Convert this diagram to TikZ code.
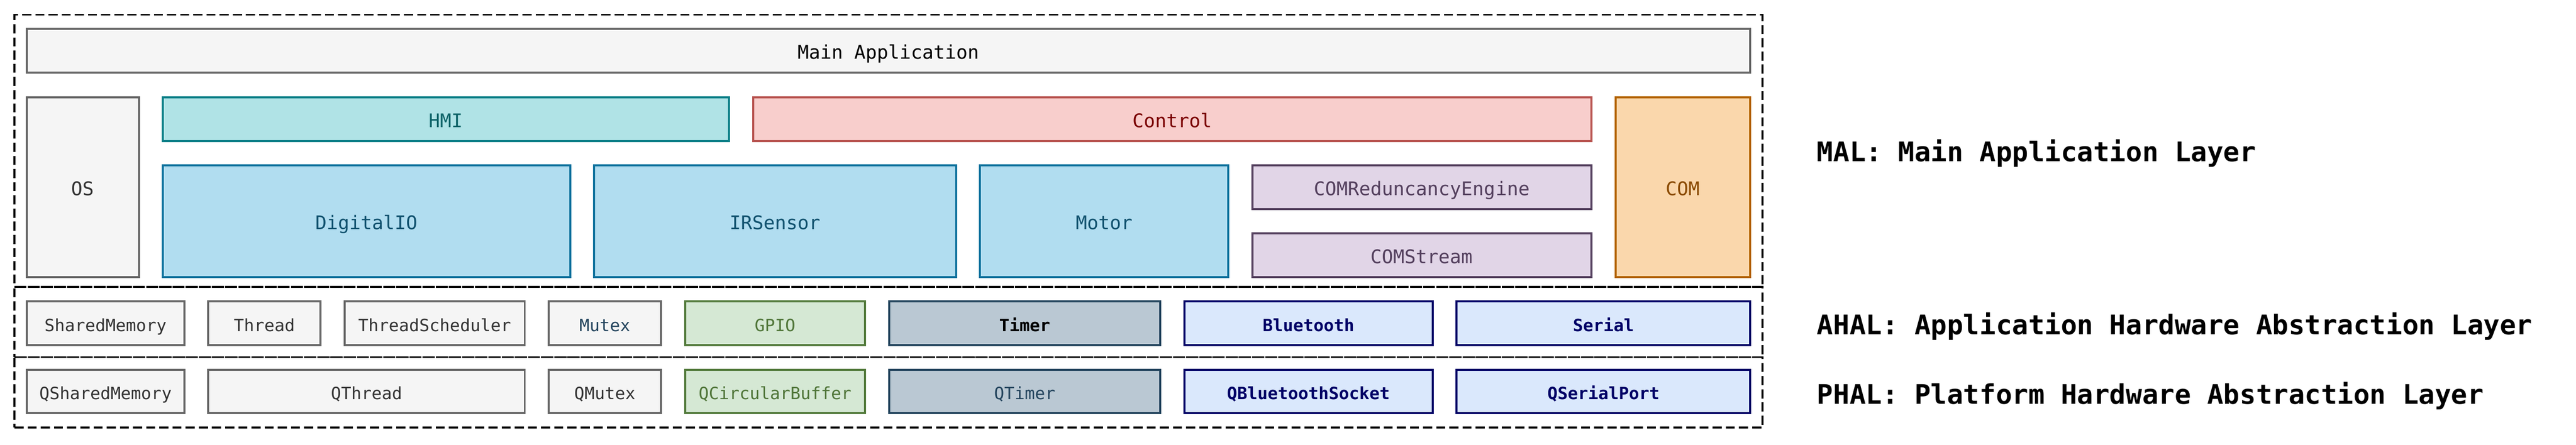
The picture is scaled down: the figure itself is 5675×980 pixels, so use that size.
\documentclass[tikz,border=0pt]{standalone}
\usepackage{fontspec}
\newfontfamily\boxfont{DejaVu Sans Mono}
\newcommand\fbig{\boxfont\fontsize{8.3pt}{9pt}\selectfont}
\newcommand\fsmall{\boxfont\fontsize{7.45pt}{8pt}\selectfont}
\definecolor{grayF}{HTML}{F5F5F5}\definecolor{grayS}{HTML}{666666}\definecolor{grayT}{HTML}{333333}
\definecolor{tealF}{HTML}{B0E3E6}\definecolor{tealS}{HTML}{0E8088}\definecolor{tealT}{HTML}{0B6166}
\definecolor{blueF}{HTML}{B1DDF0}\definecolor{blueS}{HTML}{10739E}\definecolor{blueT}{HTML}{10516E}
\definecolor{redF}{HTML}{F8CECC}\definecolor{redS}{HTML}{B85450}\definecolor{redT}{HTML}{7A0000}
\definecolor{purF}{HTML}{E1D5E7}\definecolor{purS}{HTML}{533F5D}\definecolor{purT}{HTML}{533F5D}
\definecolor{orF}{HTML}{FAD7AC}\definecolor{orS}{HTML}{B46504}\definecolor{orT}{HTML}{8A4A00}
\definecolor{grnF}{HTML}{D5E8D4}\definecolor{grnS}{HTML}{527A3B}\definecolor{grnT}{HTML}{4F7538}
\definecolor{slF}{HTML}{BAC8D3}\definecolor{slS}{HTML}{23445D}\definecolor{slT}{HTML}{23445D}
\definecolor{nvF}{HTML}{DAE8FC}\definecolor{nvS}{HTML}{000066}\definecolor{nvT}{HTML}{000066}
\newcommand\mybox[7]{%
  \pgfmathsetmacro\bxcx{(#3+#5)/2}\pgfmathsetmacro\bxcy{(#4+#6)/2}%
  \pgfmathsetmacro\bxw{(#5-#3)*0.2}\pgfmathsetmacro\bxh{(#6-#4)*0.2}%
  \node[blk,#2,minimum width=\bxw pt,minimum height=\bxh pt] (#1) at (\bxcx,\bxcy) {#7};}
\newcommand\myframe[5]{%
  \pgfmathsetmacro\bxcx{(#2+#4)/2}\pgfmathsetmacro\bxcy{(#3+#5)/2}%
  \pgfmathsetmacro\bxw{(#4-#2)*0.2}\pgfmathsetmacro\bxh{(#5-#3)*0.2}%
  \node[layerframe,minimum width=\bxw pt,minimum height=\bxh pt] (#1) at (\bxcx,\bxcy) {};}
\begin{document}
\begin{tikzpicture}[x=0.2pt,y=-0.2pt,
  blk/.style={draw,rectangle,line width=0.9pt,inner sep=0pt,outer sep=0pt,
    font=\fbig,text height=0.73em,text depth=0pt},
  lower/.style={font=\fsmall},
  lowerbold/.style={font=\fsmall\bfseries},
  gbox/.style={fill=grayF,draw=grayS,text=grayT},
  hbox/.style={fill=tealF,draw=tealS,text=tealT},
  bbox/.style={fill=blueF,draw=blueS,text=blueT},
  rbox/.style={fill=redF,draw=redS,text=redT},
  pbox/.style={fill=purF,draw=purS,text=purT},
  obox/.style={fill=orF,draw=orS,text=orT},
  grbox/.style={fill=grnF,draw=grnS,text=grnT},
  sbox/.style={fill=slF,draw=slS,text=slT},
  nbox/.style={fill=nvF,draw=nvS,text=nvT,lowerbold},
  layerframe/.style={draw=black,line width=0.8pt,dash pattern=on 4pt off 1.8pt,rectangle,inner sep=0pt,outer sep=0pt},
  layerlabel/.style={anchor=base west,inner sep=0pt,font=\boxfont\bfseries\fontsize{11.9pt}{13pt}\selectfont}]
\useasboundingbox (0,0) rectangle (5675,980);
% layer frames
\myframe{mal}{32}{32.5}{3883}{632.5}
\myframe{ahal}{32}{632.5}{3883}{787}
\myframe{phal}{32}{787}{3883}{942}
% MAL
\mybox{mainapp}{gbox,text=black}{59}{64}{3856}{160.5}{Main Application}
\mybox{os}{gbox}{59}{214.5}{306}{610.5}{OS}
\mybox{hmi}{hbox}{359}{214.5}{1606}{310.5}{HMI}
\mybox{control}{rbox}{1659}{214.5}{3506}{310.5}{Control}
\mybox{com}{obox}{3559}{214.5}{3856}{610.5}{COM}
\mybox{digio}{bbox}{359}{364}{1256}{610.5}{DigitalIO}
\mybox{irs}{bbox}{1309}{364}{2106}{610.5}{IRSensor}
\mybox{motor}{bbox}{2159}{364}{2706}{610.5}{Motor}
\mybox{comre}{pbox}{2759}{364}{3506}{460.5}{COMReduncancyEngine}
\mybox{comst}{pbox}{2759}{514}{3506}{610.5}{COMStream}
% AHAL
\mybox{shm}{gbox,lower}{59}{664}{406}{760.5}{SharedMemory}
\mybox{thr}{gbox,lower}{459}{664}{706}{760.5}{Thread}
\mybox{thrs}{gbox,lower}{759}{664}{1156}{760.5}{ThreadScheduler}
\mybox{mtx}{gbox,lower,text=slT}{1209}{664}{1456}{760.5}{Mutex}
\mybox{gpio}{grbox,lower}{1509}{664}{1906}{760.5}{GPIO}
\mybox{tmr}{sbox,text=black,lowerbold}{1959}{664}{2556}{760.5}{Timer}
\mybox{bt}{nbox}{2609}{664}{3156}{760.5}{Bluetooth}
\mybox{ser}{nbox}{3209}{664}{3856}{760.5}{Serial}
% PHAL
\mybox{qshm}{gbox,lower}{59}{814.5}{406}{910.5}{QSharedMemory}
\mybox{qthr}{gbox,lower}{459}{814.5}{1156}{910.5}{QThread}
\mybox{qmtx}{gbox,lower}{1209}{814.5}{1456}{910.5}{QMutex}
\mybox{qcb}{grbox,lower}{1509}{814.5}{1906}{910.5}{QCircularBuffer}
\mybox{qtmr}{sbox,lower}{1959}{814.5}{2556}{910.5}{QTimer}
\mybox{qbt}{nbox}{2609}{814.5}{3156}{910.5}{QBluetoothSocket}
\mybox{qser}{nbox}{3209}{814.5}{3856}{910.5}{QSerialPort}
% labels
\node[layerlabel] (malL) at (4002,356) {MAL: Main Application Layer};
\node[layerlabel] (ahalL) at (4002,737.5) {AHAL: Application Hardware Abstraction Layer};
\node[layerlabel] (phalL) at (4002,890.5) {PHAL: Platform Hardware Abstraction Layer};
\end{tikzpicture}
\end{document}
